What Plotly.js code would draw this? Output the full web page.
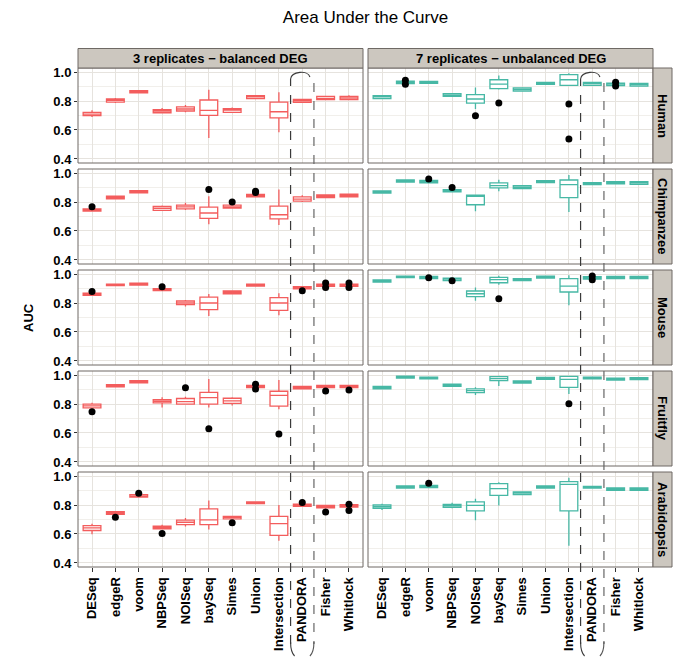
<!DOCTYPE html>
<html>
<head>
<meta charset="utf-8">
<script src="https://cdn.plot.ly/plotly-3.0.1.min.js"></script>
<style>html,body{margin:0;padding:0;background:#fff;}#chart{width:677px;height:657px;}</style>
</head>
<body>
<div id="chart"></div>
<script>
// ---------- DATA ----------
const methods = ['DESeq','edgeR','voom','NBPSeq','NOISeq','baySeq','Simes','Union','Intersection','PANDORA','Fisher','Whitlock'];
const species = ['Human','Chimpanzee','Mouse','Fruitfly','Arabidopsis'];
const designs = ['3 replicates \u2212 balanced DEG','7 replicates \u2212 unbalanced DEG'];

// each row: [lower whisker, q1, median, q3, upper whisker], in method order
const humanBal = [[0.690,0.699,0.710,0.722,0.736],[0.786,0.793,0.805,0.814,0.820],[0.855,0.857,0.864,0.871,0.873],[0.713,0.719,0.731,0.740,0.752],[0.722,0.731,0.745,0.759,0.772],[0.545,0.701,0.736,0.807,0.878],[0.718,0.722,0.738,0.747,0.756],[0.813,0.816,0.828,0.837,0.840],[0.584,0.683,0.726,0.793,0.860],[0.787,0.791,0.802,0.811,0.815],[0.806,0.809,0.818,0.832,0.835],[0.806,0.809,0.821,0.832,0.840]];
const humanUnb = [[0.813,0.816,0.828,0.837,0.840],[0.918,0.920,0.929,0.938,0.940],[0.920,0.922,0.929,0.936,0.938],[0.829,0.832,0.841,0.851,0.854],[0.745,0.786,0.814,0.844,0.894],[0.880,0.885,0.917,0.947,0.977],[0.866,0.869,0.878,0.890,0.893],[0.912,0.915,0.922,0.929,0.932],[0.905,0.908,0.947,0.982,0.991],[0.905,0.908,0.920,0.929,0.932],[0.903,0.906,0.917,0.924,0.927],[0.900,0.903,0.913,0.922,0.925]];
const chimpBal = [[0.733,0.737,0.744,0.753,0.757],[0.818,0.822,0.831,0.840,0.844],[0.860,0.863,0.872,0.879,0.882],[0.738,0.742,0.756,0.769,0.776],[0.745,0.753,0.767,0.779,0.795],[0.646,0.687,0.724,0.765,0.840],[0.754,0.758,0.767,0.779,0.783],[0.832,0.836,0.842,0.852,0.856],[0.642,0.683,0.712,0.772,0.886],[0.800,0.806,0.820,0.836,0.847],[0.827,0.831,0.840,0.849,0.852],[0.832,0.836,0.845,0.854,0.857]];
const chimpUnb = [[0.858,0.861,0.868,0.877,0.880],[0.935,0.938,0.945,0.952,0.955],[0.929,0.932,0.941,0.950,0.953],[0.867,0.870,0.877,0.886,0.889],[0.737,0.781,0.840,0.847,0.850],[0.874,0.897,0.913,0.932,0.954],[0.890,0.893,0.902,0.913,0.916],[0.931,0.934,0.941,0.947,0.950],[0.731,0.831,0.920,0.952,0.986],[0.917,0.920,0.927,0.934,0.937],[0.922,0.925,0.932,0.941,0.944],[0.919,0.922,0.932,0.941,0.944]];
const mouseBal = [[0.850,0.853,0.860,0.869,0.872],[0.918,0.920,0.926,0.931,0.933],[0.922,0.924,0.931,0.938,0.940],[0.882,0.885,0.892,0.899,0.902],[0.776,0.789,0.800,0.814,0.821],[0.710,0.754,0.800,0.841,0.862],[0.861,0.864,0.874,0.883,0.886],[0.915,0.917,0.924,0.931,0.933],[0.715,0.749,0.800,0.837,0.867],[0.894,0.897,0.906,0.913,0.916],[0.912,0.915,0.924,0.931,0.934],[0.912,0.915,0.924,0.931,0.934]];
const mouseUnb = [[0.943,0.945,0.952,0.959,0.961],[0.973,0.975,0.982,0.986,0.988],[0.966,0.968,0.977,0.984,0.986],[0.952,0.954,0.966,0.972,0.974],[0.816,0.844,0.864,0.883,0.908],[0.926,0.940,0.961,0.977,0.989],[0.952,0.954,0.961,0.968,0.970],[0.970,0.972,0.979,0.986,0.988],[0.784,0.876,0.917,0.968,0.991],[0.964,0.966,0.975,0.982,0.984],[0.966,0.968,0.977,0.984,0.986],[0.966,0.968,0.977,0.984,0.986]];
const flyBal = [[0.764,0.773,0.787,0.799,0.808],[0.915,0.918,0.924,0.934,0.937],[0.944,0.947,0.954,0.961,0.963],[0.776,0.808,0.819,0.831,0.847],[0.796,0.799,0.817,0.838,0.850],[0.776,0.799,0.844,0.881,0.973],[0.790,0.805,0.822,0.840,0.847],[0.910,0.913,0.920,0.929,0.932],[0.764,0.785,0.860,0.888,0.966],[0.901,0.904,0.913,0.922,0.925],[0.910,0.913,0.920,0.929,0.932],[0.910,0.913,0.920,0.929,0.932]];
const flyUnb = [[0.901,0.904,0.913,0.922,0.925],[0.976,0.979,0.986,0.993,0.995],[0.970,0.973,0.979,0.986,0.988],[0.919,0.922,0.929,0.938,0.941],[0.862,0.879,0.892,0.904,0.915],[0.925,0.961,0.975,0.989,0.996],[0.942,0.945,0.952,0.959,0.962],[0.967,0.970,0.977,0.984,0.986],[0.870,0.915,0.970,0.991,0.993],[0.970,0.973,0.979,0.986,0.988],[0.963,0.966,0.973,0.979,0.981],[0.965,0.968,0.975,0.982,0.984]];
const araBal = [[0.599,0.624,0.642,0.658,0.670],[0.733,0.736,0.745,0.754,0.757],[0.851,0.854,0.861,0.872,0.875],[0.633,0.636,0.645,0.654,0.663],[0.652,0.665,0.681,0.695,0.711],[0.631,0.665,0.697,0.774,0.831],[0.701,0.704,0.715,0.722,0.725],[0.806,0.809,0.815,0.822,0.824],[0.554,0.590,0.672,0.722,0.800],[0.787,0.790,0.800,0.806,0.809],[0.778,0.781,0.790,0.797,0.800],[0.783,0.786,0.795,0.802,0.805]];
const araUnb = [[0.766,0.777,0.788,0.800,0.809],[0.913,0.916,0.923,0.932,0.935],[0.917,0.920,0.929,0.936,0.939],[0.777,0.784,0.795,0.804,0.815],[0.695,0.759,0.797,0.822,0.843],[0.797,0.866,0.913,0.948,0.957],[0.869,0.872,0.882,0.891,0.894],[0.913,0.916,0.925,0.932,0.935],[0.519,0.759,0.943,0.961,0.989],[0.913,0.916,0.923,0.929,0.932],[0.899,0.902,0.911,0.918,0.921],[0.899,0.902,0.911,0.918,0.921]];

// outliers: [method, AUC]
const humanBalOut = [];
const humanUnbOut = [['edgeR',0.943],['edgeR',0.915],['NOISeq',0.699],['baySeq',0.786],['Intersection',0.779],['Intersection',0.538],['Fisher',0.929],['Fisher',0.903]];
const chimpBalOut = [['DESeq',0.767],['baySeq',0.886],['Simes',0.800],['Union',0.874],['Union',0.865]];
const chimpUnbOut = [['voom',0.959],['NBPSeq',0.900]];
const mouseBalOut = [['DESeq',0.880],['NBPSeq',0.913],['PANDORA',0.885],['Fisher',0.938],['Fisher',0.908],['Whitlock',0.938],['Whitlock',0.908]];
const mouseUnbOut = [['voom',0.974],['NBPSeq',0.954],['baySeq',0.830],['PANDORA',0.986],['PANDORA',0.961]];
const flyBalOut = [['DESeq',0.746],['NOISeq',0.913],['baySeq',0.629],['Union',0.936],['Union',0.904],['Intersection',0.593],['Fisher',0.890],['Whitlock',0.897]];
const flyUnbOut = [['Intersection',0.801]];
const araBalOut = [['edgeR',0.715],['voom',0.882],['NBPSeq',0.604],['Simes',0.677],['PANDORA',0.818],['Fisher',0.752],['Whitlock',0.806],['Whitlock',0.763]];
const araUnbOut = [['voom',0.950]];

const yTicks = [0.4,0.6,0.8,1.0];
const yMinor = [0.5,0.7,0.9];

// ---------- LAYOUT / DRAWING ----------
const W = 677, H = 657;
const colors = ['#F35D5D','#47B8A5'];
const FONT = 'Liberation Sans, Arial, sans-serif';
const colPx = [[78,363],[368,653]];
const rowPx = [[68,163],[169,264],[270,365],[371,466],[472,567]];
const xp = px => px / W;
const yp = py => 1 - py / H;
const XR = [-0.6, 11.6];
const catPx = (c, v) => colPx[c][0] + (v - XR[0]) / (XR[1] - XR[0]) * (colPx[c][1] - colPx[c][0]);

const boxData = [[humanBal,humanUnb],[chimpBal,chimpUnb],[mouseBal,mouseUnb],[flyBal,flyUnb],[araBal,araUnb]];
const outData = [[humanBalOut,humanUnbOut],[chimpBalOut,chimpUnbOut],[mouseBalOut,mouseUnbOut],[flyBalOut,flyUnbOut],[araBalOut,araUnbOut]];

const traces = [];
const layout = {
  width: W, height: H,
  margin: {l:0, r:0, t:0, b:0, pad:0},
  paper_bgcolor: '#fff', plot_bgcolor: '#fff',
  showlegend: false,
  font: {family: FONT, color: '#000'},
  title: {text: 'Area Under the Curve', x: xp(365.5), xanchor: 'center', y: yp(17), yanchor: 'middle',
          font: {family: FONT, size: 17, color: '#000'}},
  shapes: [], annotations: []
};

const gridC = '#E6E3DE', minorC = '#F1EFEB', borderC = '#6E6964', stripC = '#CCC7BF';

for (let c = 0; c < 2; c++) {
  const xa = c === 0 ? 'xaxis' : 'xaxis2';
  layout[xa] = {
    domain: [xp(colPx[c][0]), xp(colPx[c][1])], anchor: 'y5', type: 'category',
    categoryorder: 'array', categoryarray: methods, range: XR,
    tickangle: -90, ticks: 'outside', ticklen: 4, tickcolor: '#333', tickwidth: 1,
    tickfont: {family: FONT, size: 13, color: '#000', weight: 'bold'},
    showgrid: true, gridcolor: gridC, gridwidth: 1, zeroline: false, showline: false, fixedrange: true
  };
}
for (let r = 0; r < 5; r++) {
  const ya = r === 0 ? 'yaxis' : 'yaxis' + (r + 1);
  layout[ya] = {
    domain: [yp(rowPx[r][1]), yp(rowPx[r][0])], anchor: 'x', range: [0.372, 1.028],
    tickvals: yTicks, tickformat: '.1f', ticks: 'outside', ticklen: 3, tickcolor: '#333', tickwidth: 1,
    tickfont: {family: FONT, size: 13, color: '#000', weight: 'bold'},
    showgrid: true, gridcolor: gridC, gridwidth: 1, zeroline: false, showline: false, fixedrange: true,
    minor: {tickvals: yMinor, showgrid: true, gridcolor: minorC, gridwidth: 1, ticks: ''}
  };
}

for (let r = 0; r < 5; r++) {
  for (let c = 0; c < 2; c++) {
    const xid = c === 0 ? 'x' : 'x2';
    const yid = r === 0 ? 'y' : 'y' + (r + 1);
    const d = boxData[r][c];
    traces.push({
      type: 'box', x: methods, xaxis: xid, yaxis: yid,
      lowerfence: d.map(v => v[0]), q1: d.map(v => v[1]), median: d.map(v => v[2]),
      q3: d.map(v => v[3]), upperfence: d.map(v => v[4]),
      boxpoints: false, width: 0.76, whiskerwidth: 0,
      fillcolor: '#ffffff', line: {color: colors[c], width: 1.3},
      hoverinfo: 'skip', showlegend: false
    });
    const o = outData[r][c];
    if (o.length) {
      traces.push({
        type: 'scatter', mode: 'markers', xaxis: xid, yaxis: yid,
        x: o.map(p => p[0]), y: o.map(p => p[1]),
        marker: {color: '#000', size: 7}, hoverinfo: 'skip', showlegend: false
      });
    }
    // panel border
    layout.shapes.push({type: 'rect', xref: xid + ' domain', yref: yid + ' domain', x0: 0, x1: 1, y0: 0, y1: 1,
      line: {color: borderC, width: 1}, layer: 'above'});
  }
}

// top strips
for (let c = 0; c < 2; c++) {
  layout.shapes.push({type: 'rect', xref: 'paper', yref: 'paper',
    x0: xp(colPx[c][0]), x1: xp(colPx[c][1]), y0: yp(68), y1: yp(48.5),
    fillcolor: stripC, line: {color: borderC, width: 1}});
  layout.annotations.push({text: designs[c], xref: 'paper', yref: 'paper',
    x: xp((colPx[c][0] + colPx[c][1]) / 2), y: yp(58.5), xanchor: 'center', yanchor: 'middle', showarrow: false,
    font: {family: FONT, size: 13, color: '#000', weight: 'bold'}});
}
// right strips
for (let r = 0; r < 5; r++) {
  layout.shapes.push({type: 'rect', xref: 'paper', yref: 'paper',
    x0: xp(653), x1: xp(672), y0: yp(rowPx[r][1]), y1: yp(rowPx[r][0]),
    fillcolor: stripC, line: {color: borderC, width: 1}});
  layout.annotations.push({text: species[r], xref: 'paper', yref: 'paper', textangle: 90,
    x: xp(662.5), y: yp((rowPx[r][0] + rowPx[r][1]) / 2), xanchor: 'center', yanchor: 'middle', showarrow: false,
    font: {family: FONT, size: 13, color: '#000', weight: 'bold'}});
}
// y axis label
layout.annotations.push({text: 'AUC', xref: 'paper', yref: 'paper', textangle: -90,
  x: xp(28), y: yp(318), xanchor: 'center', yanchor: 'middle', showarrow: false,
  font: {family: FONT, size: 13, color: '#000', weight: 'bold'}});

// dashed "(PANDORA)" highlight in each column
const pIdx = methods.indexOf('PANDORA');
for (let c = 0; c < 2; c++) {
  const L = catPx(c, pIdx - 0.5), R = catPx(c, pIdx + 0.5), M = catPx(c, pIdx);
  const P = (x, y) => xp(x) + ',' + yp(y);
  const dashLine = {color: '#3a3a3a', width: 1.2, dash: 'dash'};
  layout.shapes.push({type: 'path', xref: 'paper', yref: 'paper', layer: 'above',
    path: 'M' + P(L, 644) + ' L' + P(L, 79), line: dashLine});
  layout.shapes.push({type: 'path', xref: 'paper', yref: 'paper', layer: 'above',
    path: 'M' + P(L, 79) + ' C' + P(L + 1, 71) + ' ' + P(R - 6, 70) + ' ' + P(R - 4, 77), line: {color: '#3a3a3a', width: 1.1}});
  layout.shapes.push({type: 'path', xref: 'paper', yref: 'paper', layer: 'above',
    path: 'M' + P(R, 83) + ' L' + P(R, 644), line: {color: '#666', width: 1.2, dash: 'dash'}});
  layout.shapes.push({type: 'path', xref: 'paper', yref: 'paper', layer: 'above',
    path: 'M' + P(L, 642) + ' Q' + P(L, 652) + ' ' + P(L + 4, 656), line: {color: '#3a3a3a', width: 1.1}});
  layout.shapes.push({type: 'path', xref: 'paper', yref: 'paper', layer: 'above',
    path: 'M' + P(R, 642) + ' Q' + P(R, 652) + ' ' + P(R - 4, 656), line: {color: '#555', width: 1.1}});
}

Plotly.newPlot('chart', traces, layout, {staticPlot: true, displayModeBar: false});
</script>
</body>
</html>
